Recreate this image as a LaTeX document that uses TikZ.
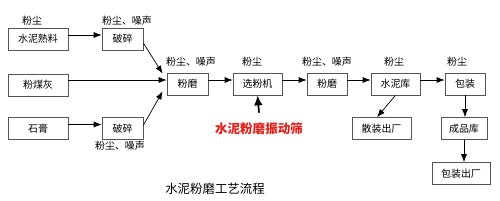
\documentclass[tikz,border=0pt]{standalone}
\usepackage{fontspec}
\setmainfont{Noto Sans CJK SC}
\usetikzlibrary{arrows.meta}
\definecolor{boxline}{HTML}{555555}
\definecolor{shaired}{HTML}{E0201B}

\begin{document}
\begin{tikzpicture}[
  x=0.3mm, y=-0.3mm,
  >={Latex[length=2.4mm, width=1.8mm]},
  box/.style={draw=boxline, line width=0.6pt, minimum height=6.6mm,
    inner sep=0pt, font=\fontsize{8.5}{10}\selectfont},
  lbl/.style={font=\fontsize{8.5}{10}\selectfont, inner sep=0pt},
  flow/.style={->, line width=0.6pt},
]

% Background
\fill[white] (0,0) rectangle (500,200);
\useasboundingbox (0,0) rectangle (500,200);

% Raw materials
\node[box, minimum width=18mm] (liao) at (38,39) {水泥熟料};
\node[box, minimum width=12.3mm] (ps1) at (122.5,39) {破碎};
\node[box, minimum width=18mm] (mfh) at (38,85) {粉煤灰};
\node[box, minimum width=18mm] (shigao) at (38,128.5) {石膏};
\node[box, minimum width=12.3mm] (ps2) at (122.5,128.5) {破碎};

% Main line
\node[box, minimum width=12.3mm] (fm1) at (187.5,84) {粉磨};
\node[box, minimum width=14.7mm] (xfj) at (257.5,84) {选粉机};
\node[box, minimum width=12mm] (fm2) at (327,84) {粉磨};
\node[box, minimum width=14.7mm] (snk) at (395.5,84) {水泥库};
\node[box, minimum width=12mm] (bz) at (465,84) {包装};

% Dispatch
\node[box, minimum width=17.7mm] (szcc) at (381.5,128.5) {散装出厂};
\node[box, minimum width=13.8mm] (cpk) at (464,128.5) {成品库};
\node[box, minimum width=17.4mm] (bzcc) at (461,173.5) {包装出厂};

% Emissions
\node[lbl] (fc1) at (32,21) {粉尘};
\node[lbl] (fz1) at (127,21) {粉尘、噪声};
\node[lbl] (fz2) at (120,146) {粉尘、噪声};
\node[lbl] (fz3) at (191,62) {粉尘、噪声};
\node[lbl] (fc2) at (252,62) {粉尘};
\node[lbl] (fz4) at (327,62) {粉尘、噪声};
\node[lbl] (fc3) at (394,62) {粉尘};
\node[lbl] (fc4) at (457,62) {粉尘};

% Screen and title
\node[font=\fontsize{10.7}{12}\selectfont\bfseries, text=shaired, inner sep=0pt]
  (shai) at (259,129) {水泥粉磨振动筛};
\node[font=\fontsize{10.6}{12}\selectfont, inner sep=0pt]
  (title) at (215,189) {水泥粉磨工艺流程};

% Connectors
\draw[flow] ([yshift=1.2mm]liao.east) -- ([yshift=1.2mm]ps1.west);
\draw[flow] ([yshift=-1.2mm]ps1.east) -- ([xshift=-1.2mm, yshift=-0.3mm]fm1.north west);
\draw[flow] ([yshift=1.5mm]mfh.east) -- ([yshift=1.2mm]fm1.west);
\draw[flow] ([yshift=1.2mm]shigao.east) -- ([yshift=1.2mm]ps2.west);
\draw[flow] ([yshift=1mm]ps2.east) -- ([xshift=-1.2mm, yshift=1.2mm]fm1.south west);
\foreach \a/\b in {fm1/xfj, xfj/fm2, fm2/snk, snk/bz}
  \draw[flow] ([yshift=1.2mm]\a.east) -- ([yshift=1.2mm]\b.west);
\draw[flow] (snk.south) -- ([xshift=-1.35mm]szcc.north);
\draw[flow] (bz.south) -- (bz.south |- cpk.north);
\draw[flow] (cpk.south) -- (cpk.south |- bzcc.north);
\draw[-{Latex[length=3mm, width=2.6mm]}, line width=1.5pt]
  ([yshift=3mm]shai.north) -- (xfj.south);

\end{tikzpicture}
\end{document}
